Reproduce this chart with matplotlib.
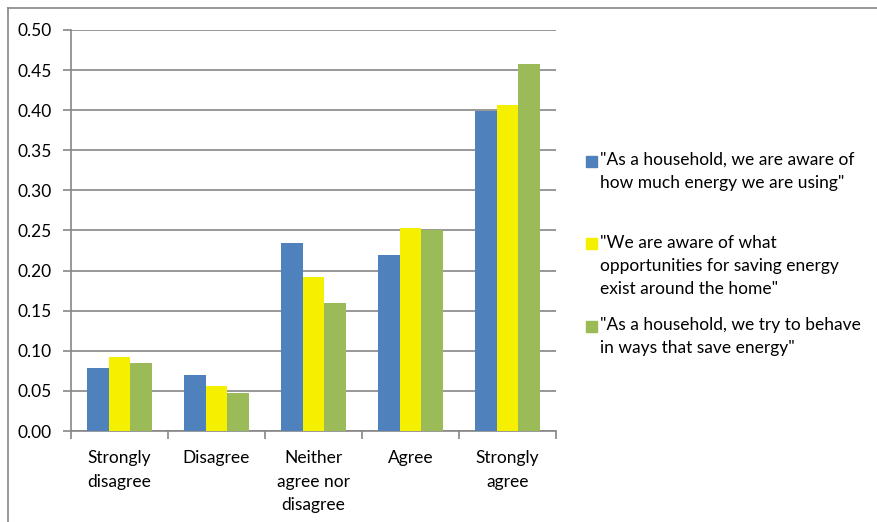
import numpy as np
import matplotlib
matplotlib.use("Agg")
import matplotlib.pyplot as plt
from matplotlib.patches import Rectangle
from matplotlib.lines import Line2D

plt.rcParams['font.family'] = ['Lato', 'DejaVu Sans']

categories = ["Strongly\ndisagree", "Disagree", "Neither\nagree nor\ndisagree", "Agree", "Strongly\nagree"]
aware_usage = [0.078, 0.070, 0.235, 0.219, 0.399]
aware_opps = [0.092, 0.056, 0.192, 0.253, 0.406]
try_behave = [0.085, 0.047, 0.159, 0.251, 0.458]
series_labels = [
    '"As a household, we are aware of\nhow much energy we are using"',
    '"We are aware of what\nopportunities for saving energy\nexist around the home"',
    '"As a household, we try to behave\nin ways that save energy"',
]
colors = ["#4F81BD", "#F5EF00", "#9BBB59"]

grey = "#868686"
fig = plt.figure(figsize=(8.77, 5.22), dpi=100)
ax = fig.add_axes([71 / 877, 1 - 431 / 522, (556 - 71) / 877, (431 - 30) / 522])

x = np.arange(len(categories))
w = 1 / 4.5
for i, vals in enumerate([aware_usage, aware_opps, try_behave]):
    ax.bar(x + (i - 1) * w, vals, width=w, color=colors[i], zorder=3)

ax.set_xlim(-0.5, len(categories) - 0.5)
ax.set_ylim(0, 0.5)
ax.set_yticks(np.arange(0, 0.51, 0.05))
ax.set_yticklabels([f"{v:.2f}" for v in np.arange(0, 0.51, 0.05)], fontsize=12.5)
ax.yaxis.grid(True, color=grey, lw=1.2, zorder=0)
ax.set_xticks(np.arange(-0.5, len(categories)), minor=False)
ax.set_xticklabels([])
ax.set_xticks(x, minor=True)
ax.set_xticklabels(categories, minor=True, fontsize=12.5, linespacing=1.55)
ax.tick_params(axis='x', which='minor', length=0, pad=14)
ax.tick_params(axis='x', which='major', length=6, color=grey, width=1.2)
ax.tick_params(axis='y', length=6, color=grey, width=1.2, pad=8)
for s in ['top', 'right']:
    ax.spines[s].set_visible(False)
for s in ['left', 'bottom']:
    ax.spines[s].set_color(grey)
    ax.spines[s].set_linewidth(1.2)

# legend drawn manually, Excel-style spacing
for i, lab in enumerate(series_labels):
    ytop = 155 + i * 82.5
    fig.patches.append(Rectangle((586 / 877, 1 - (ytop + 12) / 522), 11 / 877, 11 / 522,
                                 transform=fig.transFigure, color=colors[i]))
    fig.text(600 / 877, 1 - (ytop - 3) / 522, lab, fontsize=12.5, va='top', ha='left',
             linespacing=1.55)

# chart border
fig.add_artist(Line2D([8 / 877, 8 / 877], [0, 1 - 8 / 522], color=grey, lw=1.2,
                      transform=fig.transFigure))
fig.add_artist(Line2D([8 / 877, 1], [1 - 8 / 522, 1 - 8 / 522], color=grey, lw=1.2,
                      transform=fig.transFigure))

fig.savefig("out.png", dpi=100)
